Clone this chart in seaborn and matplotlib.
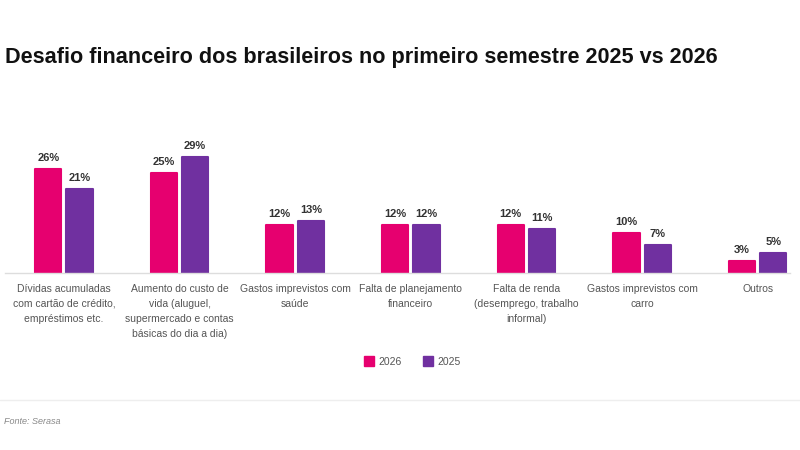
import pandas as pd
import matplotlib.pyplot as plt
import seaborn as sns
from matplotlib.lines import Line2D

# Data
categorias = [
    "Dívidas acumuladas\ncom cartão de crédito,\nempréstimos etc.",
    "Aumento do custo de\nvida (aluguel,\nsupermercado e contas\nbásicas do dia a dia)",
    "Gastos imprevistos com\nsaúde",
    "Falta de planejamento\nfinanceiro",
    "Falta de renda\n(desemprego, trabalho\ninformal)",
    "Gastos imprevistos com\ncarro",
    "Outros",
]
valores_2026 = [26, 25, 12, 12, 12, 10, 3]
valores_2025 = [21, 29, 13, 12, 11, 7, 5]
anos = ["2026", "2025"]
cores = {"2026": "#E6006F", "2025": "#7030A0"}

df = pd.DataFrame({
    "Categoria": categorias * 2,
    "Valor": valores_2026 + valores_2025,
    "Ano": ["2026"] * len(categorias) + ["2025"] * len(categorias),
})

sns.set_theme(style="white")
plt.rcParams["font.family"] = ["Liberation Sans", "DejaVu Sans"]

fig = plt.figure(figsize=(8, 4.5), dpi=100)
ax = fig.add_axes([5 / 800, 1 - 273 / 450, 785 / 800, 133 / 450])

sns.barplot(
    data=df, x="Categoria", y="Valor", hue="Ano", hue_order=anos,
    palette=cores, saturation=1, width=0.54, gap=0.16, legend=False, ax=ax,
)

for container, ano in zip(ax.containers, anos):
    for bar in container:
        bar.set_edgecolor(cores[ano])
        bar.set_linewidth(1.5)
        bar.set_joinstyle("round")
    ax.bar_label(
        container, labels=[f"{int(v)}%" for v in container.datavalues],
        padding=4, fontsize=8, fontweight="bold", color="#333333",
    )

ax.set_xlim(-0.51, 6.28)
ax.set_ylim(0, 33.25)
ax.set_xlabel("")
ax.set_ylabel("")
ax.set_yticks([])
ax.tick_params(axis="x", length=0, pad=8, labelsize=7.5, labelcolor="#555555")
for lbl in ax.get_xticklabels():
    lbl.set_linespacing(1.6)
sns.despine(ax=ax, left=True)
ax.spines["bottom"].set_color("#dddddd")
ax.spines["bottom"].set_linewidth(1)

# Title
fig.text(5 / 800, 1 - 58 / 450, "Desafio financeiro dos brasileiros no primeiro semestre 2025 vs 2026",
         fontsize=15.6, fontweight="bold", color="#111111", va="center", ha="left")

# Legend
handles = [
    Line2D([], [], marker="s", linestyle="", markersize=7,
           markerfacecolor=cores[a], markeredgecolor=cores[a], label=a)
    for a in anos
]
fig.legend(handles=handles, loc="center", bbox_to_anchor=(412 / 800, 1 - 362 / 450),
           ncol=2, frameon=False, fontsize=7.5, labelcolor="#555555",
           handletextpad=0.4, columnspacing=2.0, handlelength=1)

# Separator and source
fig.add_artist(Line2D([0, 1], [1 - 400 / 450] * 2, color="#eeeeee", linewidth=1))
fig.text(4 / 800, 1 - 421 / 450, "Fonte: Serasa", fontsize=6.5, style="italic",
         color="#888888", va="center", ha="left")

fig.savefig("out.png", dpi=100)
